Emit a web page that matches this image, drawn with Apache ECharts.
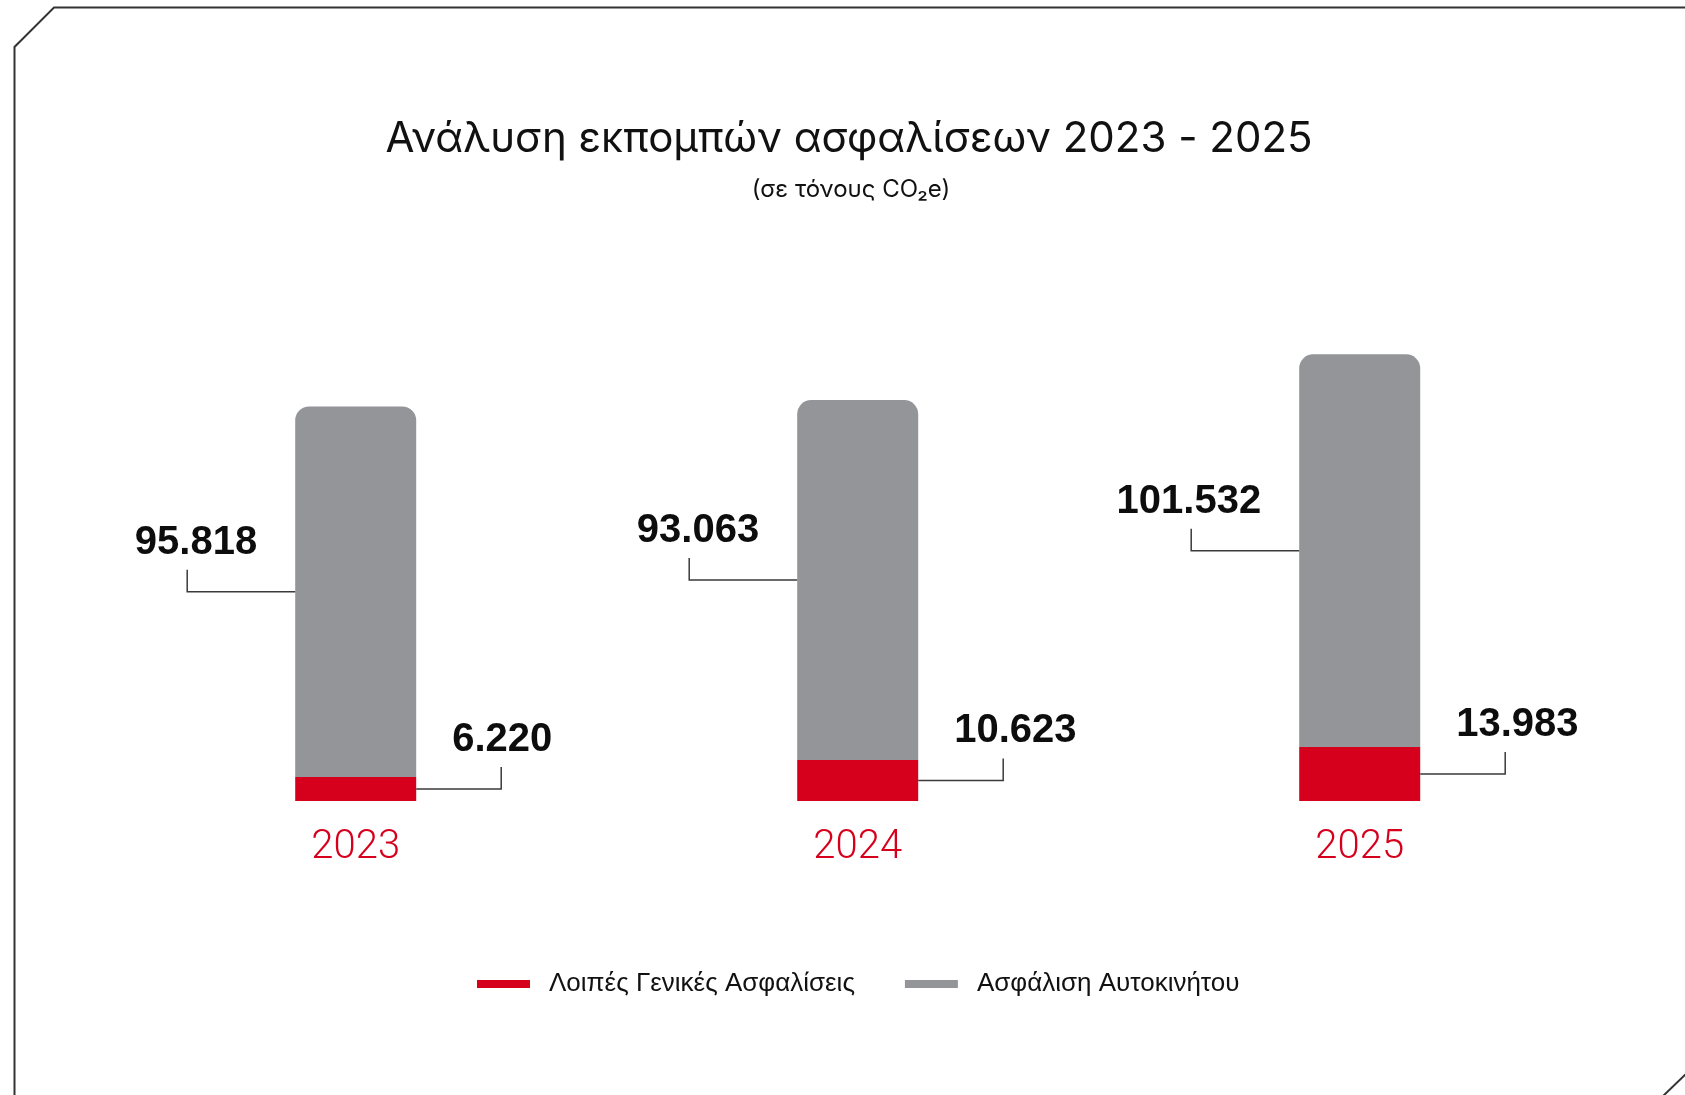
<!DOCTYPE html>
<html>
<head>
<meta charset="utf-8">
<title>Ανάλυση εκπομπών ασφαλίσεων 2023 - 2025</title>
<script src="https://cdn.jsdelivr.net/npm/echarts@6/dist/echarts.min.js"></script>
<style>
  html, body { margin: 0; padding: 0; background: #ffffff; }
  #chart { width: 1685px; height: 1095px; }
</style>
</head>
<body>
<div id="chart"></div>
<script>
// Emissions per insurance line, tonnes CO2e
const years = ['2023', '2024', '2025'];
const otherGeneral = [6220, 10623, 13983];      // Λοιπές Γενικές Ασφαλίσεις
const motor = [95818, 93063, 101532];           // Ασφάλιση Αυτοκινήτου
const seriesNames = ['Λοιπές Γενικές Ασφαλίσεις', 'Ασφάλιση Αυτοκινήτου'];

const RED = '#d6001c';
const GREY = '#939598';
const LEADER = '#3a3a3a';
const BAR_W = 121;

// Greek number formatting: dot as thousands separator
const fmt = n => String(n).replace(/\B(?=(\d{3})+(?!\d))/g, '.');

// Segment bounds [category index, lower, upper] for the leader annotations
const redSegments = years.map((y, i) => [i, 0, otherGeneral[i]]);
const greySegments = years.map((y, i) => [i, otherGeneral[i], otherGeneral[i] + motor[i]]);

const valueFont = { fontSize: 40, fontWeight: 'bold', fontFamily: '"Liberation Sans", Arial, sans-serif', fill: '#0d0d0d' };

// Elbow leader line from the segment's side plus the bold value label
function leaderItem(side) {
  return function (params, api) {
    const idx = api.value(0);
    const lo = api.value(1);
    const hi = api.value(2);
    const p = api.coord([idx, (lo + hi) / 2]);
    const cx = p[0], cy = p[1];
    const half = BAR_W / 2;
    let pts, tx, align;
    if (side === 'left') {
      const x0 = cx - half;
      const xv = x0 - 108;
      pts = [[x0, cy], [xv, cy], [xv, cy - 22]];
      tx = xv + 70;
      align = 'right';
    } else {
      const x0 = cx + half;
      const xv = x0 + 85;
      pts = [[x0, cy], [xv, cy], [xv, cy - 22]];
      tx = xv - 49;
      align = 'left';
    }
    return {
      type: 'group',
      children: [
        { type: 'polyline', shape: { points: pts }, style: { stroke: LEADER, lineWidth: 1.5, fill: null } },
        {
          type: 'text',
          style: Object.assign({
            text: fmt(Math.round(hi - lo)),
            x: tx, y: cy - 22 - 27,
            align: align, verticalAlign: 'middle'
          }, valueFont)
        }
      ]
    };
  };
}

const chart = echarts.init(document.getElementById('chart'), null, { renderer: 'canvas' });

chart.setOption({
  backgroundColor: '#ffffff',
  animation: false,
  title: [
    {
      text: 'Ανάλυση εκπομπών ασφαλίσεων 2023 - 2025',
      left: 844, top: 113, textAlign: 'center',
      textStyle: { fontSize: 42, fontWeight: 'normal', color: '#111111', fontFamily: 'Inter, "Liberation Sans", Arial, sans-serif' }
    },
    {
      text: '(σε τόνους CO₂e)',
      left: 846, top: 173, textAlign: 'center',
      textStyle: { fontSize: 24, fontWeight: 'normal', color: '#111111', fontFamily: 'Inter, "Liberation Sans", Arial, sans-serif' }
    }
  ],
  legend: {
    data: seriesNames,
    left: 472, top: 966,
    icon: 'rect',
    itemWidth: 53, itemHeight: 8,
    itemGap: 50,
    textStyle: { fontSize: 26, color: '#111111', fontFamily: '"Liberation Sans Narrow", "Liberation Sans", Arial, sans-serif', padding: [0, 0, 0, 14] }
  },
  grid: { left: 104.7, right: 74.3, top: 337, bottom: 294 },
  xAxis: {
    type: 'category',
    data: years,
    axisLine: { show: false },
    axisTick: { show: false },
    axisLabel: { color: RED, fontSize: 40, fontWeight: 300, fontFamily: 'Roboto, "Liberation Sans", sans-serif', margin: 27 }
  },
  yAxis: {
    type: 'value', min: 0, max: 120000,
    show: false,
    splitLine: { show: false }
  },
  series: [
    {
      name: seriesNames[0], type: 'bar', stack: 'total', barWidth: BAR_W,
      data: otherGeneral,
      itemStyle: { color: RED }
    },
    {
      name: seriesNames[1], type: 'bar', stack: 'total', barWidth: BAR_W,
      data: motor,
      itemStyle: { color: GREY, borderRadius: [14, 14, 0, 0] }
    },
    {
      type: 'custom', name: 'redLabels', silent: true, z: 5,
      renderItem: leaderItem('right'),
      encode: { x: 0, y: [1, 2] },
      data: redSegments
    },
    {
      type: 'custom', name: 'greyLabels', silent: true, z: 5,
      renderItem: leaderItem('left'),
      encode: { x: 0, y: [1, 2] },
      data: greySegments
    }
  ],
  graphic: [
    // chamfered frame
    {
      type: 'polyline', silent: true,
      shape: { points: [[14.5, 1100], [14.5, 47], [54, 7.5], [1690, 7.5]] },
      style: { stroke: '#333333', lineWidth: 2, fill: null }
    },
    {
      type: 'polyline', silent: true,
      shape: { points: [[1662, 1097], [1687, 1073]] },
      style: { stroke: '#333333', lineWidth: 2, fill: null }
    }
  ]
});
</script>
</body>
</html>
